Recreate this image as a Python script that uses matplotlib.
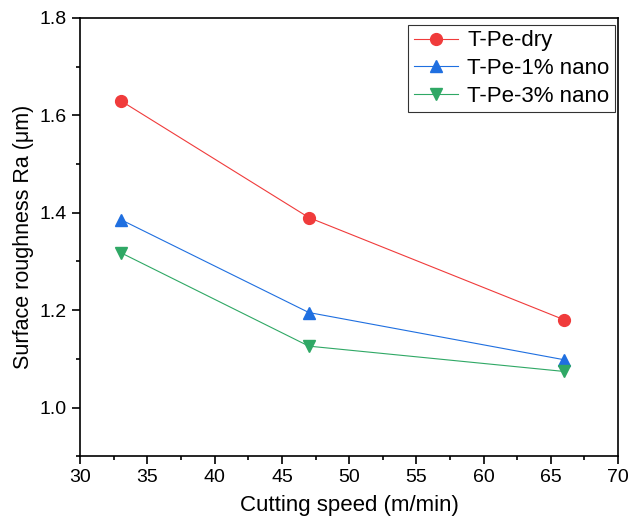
import numpy as np
import matplotlib.pyplot as plt
from matplotlib.ticker import MultipleLocator

plt.rcParams['font.family'] = ['Liberation Sans', 'DejaVu Sans']

# donnees
speed = [33, 47, 66]
dry = [1.63, 1.39, 1.18]
nano1 = [1.386, 1.195, 1.098]
nano3 = [1.318, 1.126, 1.074]

fig = plt.figure(figsize=(6.32, 5.25), dpi=100)
ax = fig.add_axes([0.127, 0.131, 0.851, 0.835])

ax.plot(speed, dry, '-o', color='#f03b3b', lw=0.8, ms=8.5, label='T-Pe-dry')
ax.plot(speed, nano1, '-^', color='#1f6fe0', lw=0.8, ms=8.5, label='T-Pe-1% nano')
ax.plot(speed, nano3, '-v', color='#2fa865', lw=0.8, ms=8.5, label='T-Pe-3% nano')

ax.set_xlim(30, 70)
ax.set_ylim(0.9, 1.8)
ax.xaxis.set_major_locator(MultipleLocator(5))
ax.xaxis.set_minor_locator(MultipleLocator(2.5))
ax.yaxis.set_minor_locator(MultipleLocator(0.1))
ax.set_yticks([1.0, 1.2, 1.4, 1.6, 1.8])
ax.tick_params(which='major', direction='out', length=6, width=1.2, labelsize=14)
ax.tick_params(which='minor', direction='out', length=3, width=1.2)
for s in ax.spines.values():
    s.set_linewidth(1.2)

ax.set_xlabel('Cutting speed (m/min)', fontsize=16, labelpad=6)
ax.set_ylabel('Surface roughness Ra (μm)', fontsize=15.5)

leg = ax.legend(loc='upper right', bbox_to_anchor=(0.994, 0.984), fontsize=16,
                fancybox=False, edgecolor='black', handlelength=2.0, borderpad=0.25,
                labelspacing=0.3, handletextpad=0.4, borderaxespad=0)
leg.get_frame().set_linewidth(0.8)

plt.savefig('out.png', dpi=100)
